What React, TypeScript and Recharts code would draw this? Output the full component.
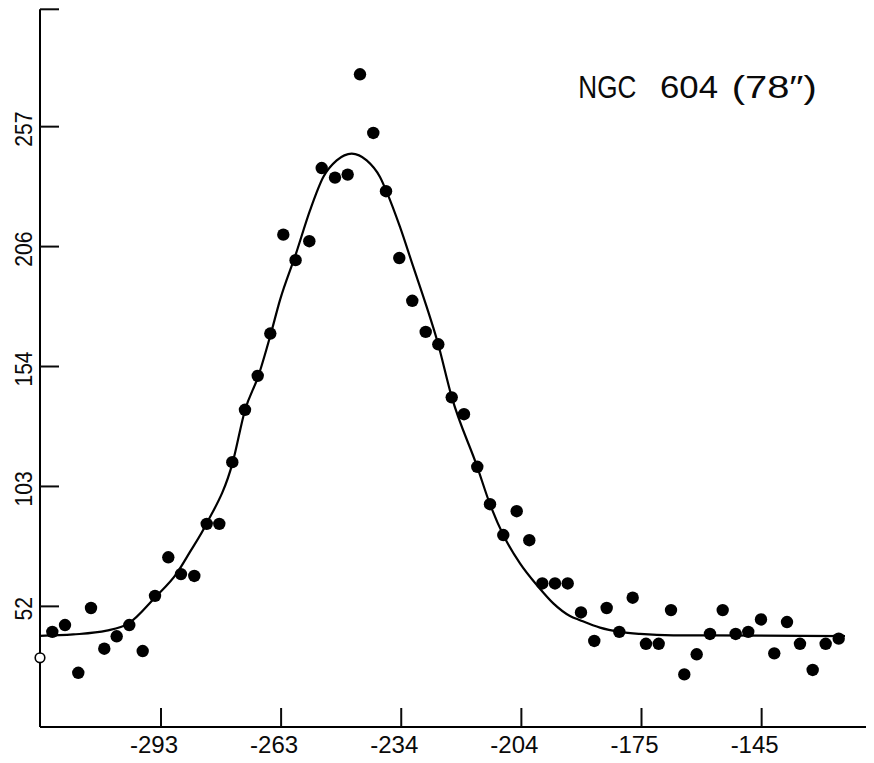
import React from 'react';
import { ComposedChart, Scatter, Line, XAxis, YAxis, ReferenceDot } from 'recharts';

// Observed channel velocities (km/s) and intensities
const velocity = [
  -319.64, -316.52, -313.25, -310.12, -306.85, -303.8, -300.7, -297.4, -294.37, -291.1,
  -287.98, -284.7, -281.65, -278.55, -275.35, -272.23, -269.1, -266.0, -262.8, -259.78,
  -256.4, -253.35, -250.08, -246.96, -243.93, -240.66, -237.53, -234.26, -231.06, -227.76,
  -224.66, -221.36, -218.34, -215.07, -211.94, -208.67, -205.37, -202.27, -199.07, -195.95,
  -192.82, -189.55, -186.28, -183.23, -180.13, -176.83, -173.56, -170.43, -167.4, -164.13,
  -161.08, -157.81, -154.68, -151.49, -148.39, -145.26, -141.99, -138.86, -135.66, -132.54,
  -129.34, -126.14,
];
const intensity = [
  40.7, 43.6, 23.2, 50.9, 33.5, 38.8, 43.6, 32.5, 56.1, 72.6,
  65.4, 64.6, 86.9, 86.9, 113.3, 135.7, 150.2, 168.3, 210.6, 199.7,
  207.8, 239.1, 235.0, 236.3, 279.2, 254.1, 229.2, 200.6, 182.3, 169.0,
  163.7, 141.0, 133.8, 111.3, 95.3, 82.1, 92.3, 79.9, 61.4, 61.4,
  61.4, 49.0, 36.8, 50.9, 40.7, 55.3, 35.6, 35.6, 50.0, 22.5,
  31.1, 39.8, 50.0, 39.8, 40.7, 46.0, 31.5, 44.9, 35.6, 24.4,
  35.6, 37.8,
];

// Fitted profile
const fitVelocity = [
  -322.67, -314.48, -306.26, -300.94, -294.37, -289.03, -285.76, -281.65, -275.25, -272.23,
  -268.95, -265.9, -263.62, -259.68, -256.23, -252.96, -249.66, -245.97, -242.28, -239.01,
  -237.36, -234.09, -230.81, -227.52, -224.86, -221.36, -215.08, -211.94, -208.67, -204.56,
  -200.06, -196.36, -192.26, -189.79, -184.87, -179.95, -175.03, -166.84, -157.81, -124.59,
];
const fitIntensity = [
  39.0, 39.6, 41.2, 44.2, 55.4, 65.7, 74.9, 87.1, 113.2, 135.5,
  150.1, 168.0, 182.6, 202.5, 221.0, 235.3, 242.4, 245.3, 242.4, 235.3,
  228.9, 213.9, 196.8, 179.7, 164.8, 141.2, 111.3, 95.3, 82.1, 70.0,
  60.0, 52.9, 47.5, 45.7, 42.5, 40.7, 39.8, 39.2, 39.2, 38.9,
];

const xTickValues = [-292.9, -263.34, -233.78, -204.22, -174.66, -145.1];
const xTickLabels = ['-293', '-263', '-234', '-204', '-175', '-145'];
const yTickValues = [51.6, 102.9, 154.2, 205.5, 256.8, 307];
const yTickLabels = ['52', '103', '154', '206', '257', ''];
const zeroLevel = 29.6;
const titleParts = ['NGC', '604', '(78″)'];

const X_DOMAIN: [number, number] = [-322.67, -117.45];
const Y_DOMAIN: [number, number] = [0, 307];

const points = velocity.map((v, i) => ({ x: v, y: intensity[i] }));
const fit = fitVelocity.map((v, i) => ({ x: v, y: fitIntensity[i] }));

const FONT = "'Liberation Sans', Arial, sans-serif";
const INK = '#0a0a0a';
const TICK_LEN = 19;

const XTick = (props: any) => {
  const { x, y, payload } = props;
  const i = xTickValues.indexOf(payload.value);
  const label = i >= 0 ? xTickLabels[i] : '';
  return (
    <g>
      <path d={`M${x},${y}L${x},${y - TICK_LEN}`} stroke={INK} strokeWidth={2} fill="none" />
      <text x={x - 31} y={y + 26} fontFamily={FONT} fontSize={24} fill={INK} textAnchor="start">
        {label}
      </text>
    </g>
  );
};

const YTick = (props: any) => {
  const { x, y, payload } = props;
  const i = yTickValues.indexOf(payload.value);
  const label = i >= 0 ? yTickLabels[i] : '';
  const bx = x - 8.3;
  const cy = y + 2.5;
  return (
    <g>
      <path d={`M${x},${y}L${x + TICK_LEN},${y}`} stroke={INK} strokeWidth={2} fill="none" />
      {label ? (
        <text
          x={bx}
          y={cy}
          transform={`rotate(-90, ${bx}, ${cy})`}
          textAnchor="middle"
          fontFamily={FONT}
          fontSize={24}
          fill={INK}
          textLength={label.length * 11.7}
          lengthAdjust="spacingAndGlyphs"
        >
          {label}
        </text>
      ) : null}
    </g>
  );
};

const Dot = (props: any) => {
  const { cx, cy } = props;
  if (cx == null || cy == null) return <g />;
  return <circle cx={cx} cy={cy} r={6.2} fill="#000" />;
};

export default function App() {
  return (
    <div style={{ position: 'relative', width: 866, height: 755, background: '#fff' }}>
      <ComposedChart width={866} height={755} margin={{ top: 1.3, right: 0, bottom: 0, left: 0 }}>
        <XAxis
          type="number"
          dataKey="x"
          domain={X_DOMAIN}
          allowDataOverflow
          ticks={xTickValues}
          interval={0}
          tickSize={0}
          tickMargin={0}
          height={36}
          axisLine={{ stroke: '#000', strokeWidth: 2 }}
          tickLine={false}
          tick={<XTick />}
        />
        <YAxis
          type="number"
          dataKey="y"
          domain={Y_DOMAIN}
          allowDataOverflow
          ticks={yTickValues}
          interval={0}
          tickSize={0}
          tickMargin={0}
          width={32}
          axisLine={{ stroke: '#000', strokeWidth: 2 }}
          tickLine={false}
          tick={<YTick />}
        />
        <Line
          data={fit}
          dataKey="y"
          type="monotone"
          stroke="#000"
          strokeWidth={2.2}
          dot={false}
          activeDot={false}
          isAnimationActive={false}
        />
        <Scatter data={points} dataKey="y" fill="#000" shape={<Dot />} isAnimationActive={false} />
        <ReferenceDot
          x={X_DOMAIN[0]}
          y={zeroLevel}
          r={4.8}
          fill="#fff"
          stroke="#000"
          strokeWidth={1.6}
          ifOverflow="visible"
        />
      </ComposedChart>
      <svg
        width={866}
        height={755}
        style={{ position: 'absolute', left: 0, top: 0, pointerEvents: 'none' }}
      >
        <text x={570.3} y={90.3} fontFamily={FONT} fontSize={32} fill={INK} textLength={58} lengthAdjust="spacingAndGlyphs">
          {titleParts[0]}
        </text>
        <text x={652} y={90.3} fontFamily={FONT} fontSize={32} fill={INK} textLength={58} lengthAdjust="spacingAndGlyphs">
          {titleParts[1]}
        </text>
        <text x={723.7} y={90.3} fontFamily={FONT} fontSize={32} fill={INK} textLength={85} lengthAdjust="spacingAndGlyphs">
          {titleParts[2]}
        </text>
      </svg>
    </div>
  );
}
